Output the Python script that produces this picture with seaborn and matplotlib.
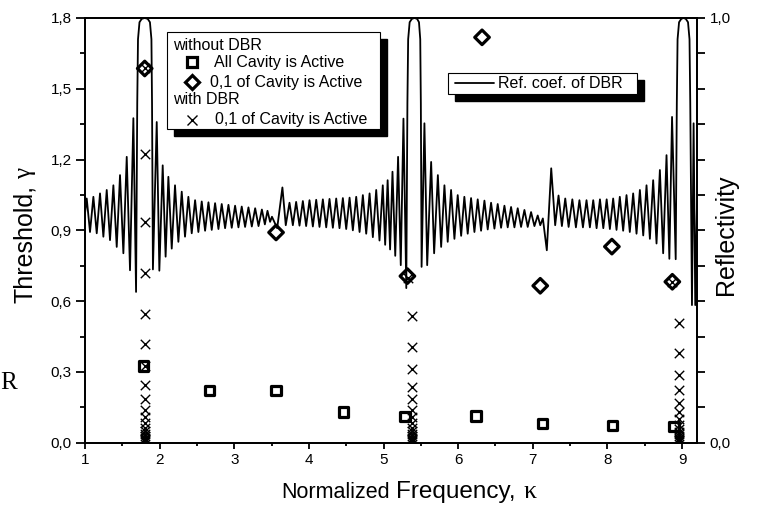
import matplotlib
matplotlib.use("Agg")
import matplotlib.pyplot as plt
import matplotlib.ticker as ticker
from matplotlib.patches import Rectangle
import seaborn as sns

# reflection coefficient of the DBR (right axis)
ref_x = [
    1.000, 1.023, 1.067, 1.112, 1.157, 1.201, 1.246, 1.291, 1.335, 1.380,
    1.425, 1.469, 1.514, 1.559, 1.603, 1.648, 1.684,
    # first stop band
    1.700, 1.710, 1.730, 1.760, 1.800, 1.840, 1.870, 1.890, 1.898, 1.910,
    1.961, 1.996, 2.041, 2.080, 2.117, 2.162, 2.206, 2.251, 2.296, 2.340,
    2.385, 2.430, 2.475, 2.519, 2.564, 2.609, 2.654, 2.698, 2.743, 2.788,
    2.832, 2.877, 2.922, 2.966, 3.011, 3.056, 3.100, 3.145, 3.190, 3.235,
    3.280, 3.325, 3.370, 3.410, 3.445, 3.480, 3.505, 3.575, 3.645, 3.690,
    3.740, 3.785, 3.829, 3.874, 3.919, 3.963, 4.008, 4.053, 4.098, 4.142,
    4.187, 4.232, 4.276, 4.321, 4.366, 4.410, 4.455, 4.500, 4.545, 4.589,
    4.634, 4.679, 4.723, 4.768, 4.813, 4.857, 4.902, 4.946, 4.990, 5.022,
    5.055, 5.088, 5.120, 5.157, 5.195, 5.231, 5.267, 5.305,
    # second stop band
    5.320, 5.330, 5.350, 5.380, 5.415, 5.450, 5.475, 5.492, 5.500, 5.510,
    5.548, 5.585, 5.638, 5.678, 5.728, 5.772, 5.816, 5.860, 5.905, 5.950,
    5.994, 6.040, 6.083, 6.128, 6.173, 6.218, 6.262, 6.307, 6.352, 6.396,
    6.441, 6.486, 6.530, 6.575, 6.620, 6.664, 6.709, 6.754, 6.798, 6.843,
    6.888, 6.932, 6.977, 7.022, 7.066, 7.100, 7.135, 7.188, 7.247, 7.300,
    7.345, 7.390, 7.435, 7.480, 7.530, 7.578, 7.625, 7.672, 7.720, 7.765,
    7.810, 7.855, 7.900, 7.945, 7.990, 8.033, 8.077, 8.122, 8.166, 8.211,
    8.256, 8.300, 8.345, 8.390, 8.435, 8.480, 8.524, 8.569, 8.613, 8.658,
    8.703, 8.747, 8.792, 8.830, 8.866, 8.915,
    # third stop band
    8.930, 8.940, 8.960, 8.990, 9.020, 9.050, 9.080, 9.100, 9.110, 9.133,
    9.155, 9.177, 9.200,
]
ref_r = [
    0.540, 0.575, 0.496, 0.579, 0.493, 0.587, 0.485, 0.595, 0.477, 0.606,
    0.461, 0.630, 0.446, 0.673, 0.406, 0.764, 0.355,
    0.800, 0.950, 0.990, 0.998, 1.000, 0.998, 0.990, 0.950, 0.800, 0.408,
    0.755, 0.405, 0.653, 0.438, 0.626, 0.457, 0.606, 0.473, 0.591, 0.485,
    0.579, 0.493, 0.571, 0.496, 0.568, 0.499, 0.566, 0.501, 0.564, 0.503,
    0.562, 0.505, 0.560, 0.506, 0.558, 0.507, 0.556, 0.508, 0.554, 0.509,
    0.552, 0.510, 0.549, 0.514, 0.546, 0.520, 0.532, 0.505, 0.601, 0.512,
    0.565, 0.512, 0.567, 0.511, 0.569, 0.510, 0.571, 0.509, 0.572, 0.508,
    0.573, 0.507, 0.574, 0.506, 0.575, 0.505, 0.576, 0.503, 0.577, 0.500,
    0.579, 0.496, 0.583, 0.492, 0.587, 0.484, 0.595, 0.476, 0.606, 0.466,
    0.618, 0.455, 0.638, 0.440, 0.673, 0.418, 0.763, 0.364,
    0.800, 0.950, 0.990, 0.998, 1.000, 0.998, 0.990, 0.950, 0.800, 0.414,
    0.752, 0.418, 0.661, 0.446, 0.630, 0.461, 0.606, 0.473, 0.595, 0.480,
    0.583, 0.487, 0.579, 0.492, 0.576, 0.496, 0.573, 0.499, 0.570, 0.502,
    0.565, 0.504, 0.562, 0.506, 0.558, 0.507, 0.555, 0.507, 0.552, 0.508,
    0.548, 0.508, 0.543, 0.510, 0.535, 0.512, 0.528, 0.453, 0.646, 0.512,
    0.582, 0.510, 0.575, 0.508, 0.573, 0.507, 0.571, 0.507, 0.571, 0.507,
    0.571, 0.505, 0.573, 0.505, 0.573, 0.503, 0.575, 0.501, 0.579, 0.499,
    0.583, 0.496, 0.587, 0.492, 0.595, 0.488, 0.606, 0.480, 0.618, 0.469,
    0.642, 0.446, 0.677, 0.433, 0.767, 0.432,
    0.800, 0.950, 0.990, 0.998, 1.000, 0.998, 0.990, 0.950, 0.800, 0.324,
    0.752, 0.324, 0.560,
]

# without DBR, all cavity active
sq_x = [1.78, 2.67, 3.56, 4.46, 5.29, 6.24, 7.13, 8.07, 8.89]
sq_y = [0.325, 0.220, 0.220, 0.130, 0.110, 0.113, 0.082, 0.072, 0.068]

# without DBR, 0.1 of cavity active
dm_x = [1.80, 3.56, 5.32, 6.32, 7.10, 8.06, 8.87]
dm_y = [1.586, 0.891, 0.706, 1.718, 0.665, 0.831, 0.682]

# with DBR, 0.1 of cavity active
cr_x = [1.80] * 20 + [5.325] + [5.38] * 16 + [8.87] + [8.96] * 16
cr_y = [1.590, 1.223, 0.936, 0.718, 0.545, 0.418, 0.325, 0.245, 0.185, 0.140,
        0.107, 0.082, 0.063, 0.048, 0.037, 0.028, 0.021, 0.016, 0.012, 0.009,
        0.700, 0.537, 0.407, 0.312, 0.237, 0.184, 0.140, 0.107, 0.082, 0.063,
        0.048, 0.037, 0.028, 0.021, 0.016, 0.012, 0.009,
        0.682, 0.506, 0.381, 0.287, 0.223, 0.170, 0.130, 0.100, 0.077, 0.059,
        0.045, 0.035, 0.027, 0.020, 0.015, 0.012, 0.009]

sns.set_style("ticks")
plt.rcParams.update({
    "font.family": ["Liberation Sans", "DejaVu Sans"],
    "axes.linewidth": 1.3,
    "axes.edgecolor": "black",
    "xtick.color": "black",
    "ytick.color": "black",
    "text.color": "black",
})


def comma(v, pos):
    return f"{v:.1f}".replace(".", ",")


fig = plt.figure(figsize=(7.57, 5.05), dpi=100)
ax = fig.add_axes([0.1123, 0.1234, 0.8084, 0.8410])
ax2 = ax.twinx()

sns.lineplot(x=ref_x, y=ref_r, ax=ax2, color="black", linewidth=1.3,
             sort=False, estimator=None)

sns.scatterplot(x=sq_x, y=sq_y, ax=ax, marker="s", s=46, facecolors="none",
                edgecolor="black", linewidth=2.3, zorder=4)
sns.scatterplot(x=dm_x, y=dm_y, ax=ax, marker="D", s=55, facecolors="none",
                edgecolor="black", linewidth=2.3, zorder=4)
sns.scatterplot(x=cr_x, y=cr_y, ax=ax, marker="x", s=46, color="black",
                linewidth=1.0, zorder=5)

ax.set_zorder(ax2.get_zorder() + 1)
ax.patch.set_visible(False)

ax.set_xlim(1, 9.2)
ax.set_ylim(0, 1.8)
ax2.set_ylim(0, 1)
ax.xaxis.set_major_locator(ticker.MultipleLocator(1))
ax.xaxis.set_minor_locator(ticker.MultipleLocator(0.5))
ax.xaxis.set_major_formatter(ticker.FormatStrFormatter("%d"))
ax.yaxis.set_major_locator(ticker.MultipleLocator(0.3))
ax.yaxis.set_minor_locator(ticker.MultipleLocator(0.15))
ax.yaxis.set_major_formatter(ticker.FuncFormatter(comma))
ax2.yaxis.set_major_locator(ticker.FixedLocator([0, 1]))
ax2.yaxis.set_minor_locator(ticker.MultipleLocator(1 / 12))
ax2.yaxis.set_major_formatter(ticker.FuncFormatter(comma))

ax.tick_params(axis="x", which="major", direction="out", length=4.5, width=1.3, labelsize=11, pad=3)
ax.tick_params(axis="x", which="minor", direction="out", length=2.5, width=1.3)
ax.tick_params(axis="y", which="major", direction="out", length=6.5, width=1.3, labelsize=11, pad=3)
ax.tick_params(axis="y", which="minor", direction="out", length=3.5, width=1.3)
ax2.tick_params(axis="y", which="both", direction="out", length=6, width=1.3, labelsize=11, pad=3)
for a in (ax, ax2):
    for s in a.spines.values():
        s.set_visible(True)
        s.set_linewidth(1.3)
ax.set_xlabel("")
ax.set_ylabel("")
ax2.set_ylabel("")

# axis titles
t1 = ax.text(0.3214, -0.131, "Normalized", transform=ax.transAxes,
             fontsize=15.5, ha="left", va="baseline")
t2 = ax.annotate("Frequency,", xy=(1, 0), xycoords=t1, xytext=(4, 0),
                 textcoords="offset points", fontsize=17.5, ha="left", va="bottom")
ax.annotate("\u03ba", xy=(1, 0), xycoords=t2, xytext=(6, 0),
            textcoords="offset points", fontsize=18.5, ha="left", va="bottom",
            family="Liberation Serif")
th = fig.text(0.033, 0.40, "Threshold,", rotation=90, fontsize=18,
              ha="center", va="bottom")
ax.annotate("\u03b3", xy=(0.5, 1), xycoords=th, xytext=(0, 4),
            textcoords="offset points", rotation=90, fontsize=18,
            ha="center", va="bottom", family="Liberation Serif")
fig.text(0.959, 0.535, "Reflectivity", rotation=90, fontsize=18,
         ha="center", va="center")
fig.text(0.0, 0.2416, "R", fontsize=18, family="Liberation Serif",
         ha="left", va="center")


# legend boxes with black drop shadow
def shadow_box(x0, y0, x1, y1):
    ax.add_patch(Rectangle((x0 + 0.0114, y0 - 0.0165), x1 - x0, y1 - y0,
                           transform=ax.transAxes, facecolor="black",
                           edgecolor="black", zorder=8, clip_on=False))
    ax.add_patch(Rectangle((x0, y0), x1 - x0, y1 - y0, transform=ax.transAxes,
                           facecolor="white", edgecolor="black", linewidth=0.8,
                           zorder=9, clip_on=False))


shadow_box(0.134, 0.739, 0.482, 0.967)
lkw = dict(transform=ax.transAxes, fontsize=11.5, va="center", ha="left", zorder=10)
ax.text(0.1443, 0.936, "without DBR", **lkw)
ax.plot([0.1743], [0.896], marker="s", ms=6.8, mew=2.3, mfc="none", mec="black",
        ls="none", transform=ax.transAxes, zorder=10, clip_on=False)
ax.text(0.2108, 0.896, "All Cavity is Active", **lkw)
ax.plot([0.1743], [0.849], marker="D", ms=7.4, mew=2.3, mfc="none", mec="black",
        ls="none", transform=ax.transAxes, zorder=10, clip_on=False)
ax.text(0.2042, 0.849, "0,1 of Cavity is Active", **lkw)
ax.text(0.1443, 0.807, "with DBR", **lkw)
ax.plot([0.1743], [0.760], marker="x", ms=6.8, mew=1.0, color="black",
        ls="none", transform=ax.transAxes, zorder=10, clip_on=False)
ax.text(0.2124, 0.760, "0,1 of Cavity is Active", **lkw)

shadow_box(0.5926, 0.8211, 0.9015, 0.8712)
ax.plot([0.6046, 0.6688], [0.8463, 0.8463], color="black", linewidth=1.3,
        transform=ax.transAxes, zorder=10, clip_on=False)
ax.text(0.6753, 0.8463, "Ref. coef. of DBR", **lkw)

fig.savefig("out.png", dpi=100)
